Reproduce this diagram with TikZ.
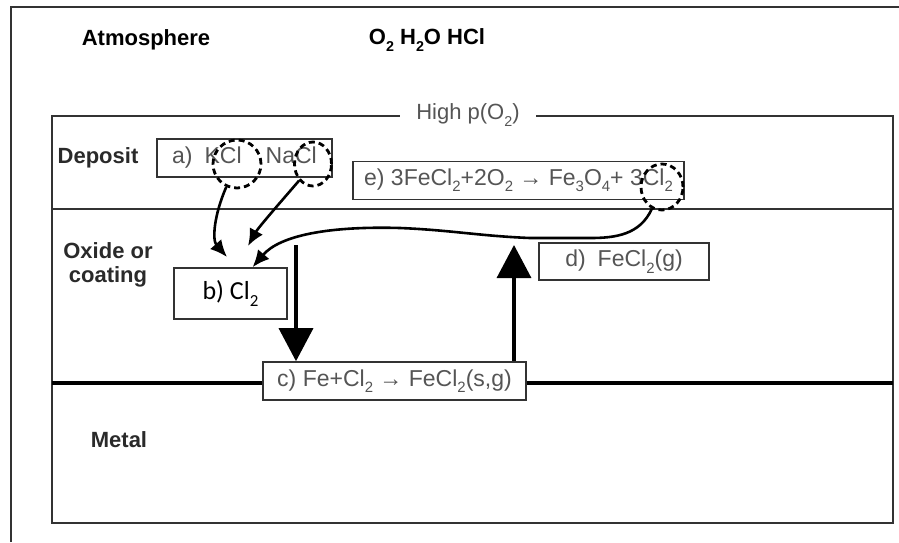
\documentclass[tikz,border=0pt]{standalone}
\usepackage{fontspec}
\setmainfont{Liberation Sans}
\newfontfamily\calib{Carlito}
\usetikzlibrary{arrows.meta,shapes.geometric,calc}
\definecolor{txtgray}{HTML}{555555}
\definecolor{linegray}{HTML}{333333}
\definecolor{lblgray}{HTML}{2a2a2a}
\newcommand\sbs[1]{\raisebox{-0.28em}{\scalebox{0.65}{#1}}}
\begin{document}
\begin{tikzpicture}[x=1pt,y=-1pt,
  box/.style={draw=linegray, line width=1.6pt, fill=white, text=txtgray,
    font=\fontsize{23}{26}\selectfont, inner sep=0pt, anchor=center},
  lbl/.style={font=\bfseries\fontsize{22}{25}\selectfont, text=lblgray, inner sep=0pt, anchor=center},
  dcirc/.style={ellipse, draw=black, dash pattern=on 6pt off 4pt, line width=2.8pt, inner sep=0pt},
  thinarr/.style={-{Latex[length=17pt,width=15pt]}, line width=2.6pt},
  bigarr/.style={-{Triangle[length=33pt,width=34pt]}, line width=3.4pt},
  frame/.style={draw=linegray, line width=1.8pt}]
\useasboundingbox (0,0) rectangle (899,542);
\fill[white] (0,0) rectangle (899,542);
% outer frame
\draw[frame, line width=2.2pt] (11,542) -- (11,7) -- (899,7);
% inner box
\draw[frame] (52,116) rectangle (893,523);
\draw[frame] (52,209) -- (893,209);
\draw[frame, draw=black, line width=3.2pt] (52,383) -- (893,383);
% labels
\node[lbl, text=black] (atm) at (146,40) {Atmosphere};
\node[lbl, text=black] (gas) at (427,40) {O\sbs{2} H\sbs{2}O HCl};
\node[fill=white, inner ysep=2pt, inner xsep=16pt, text=txtgray, font=\fontsize{22}{25}\selectfont] (hp) at (468,115) {High p(O\sbs{2})};
\node[lbl] (dep) at (98,158) {Deposit};
\node[lbl, align=center, font=\bfseries\fontsize{22}{24}\selectfont] (oxc) at (108,265) {Oxide or\\coating};
\node[lbl] (met) at (119,440) {Metal};
% boxes
\node[box, minimum width=175pt, minimum height=38pt] (a) at (244.5,158) {a)\hspace{12pt}KCl\hspace{24pt}NaCl};
\node[box, minimum width=331pt, minimum height=38pt] (e) at (518.5,180.5) {e) 3FeCl\sbs{2}+2O\sbs{2} → Fe\sbs{3}O\sbs{4}+ 3Cl\sbs{2}};
\node[box, minimum width=113pt, minimum height=51pt, text=black, font=\calib\fontsize{26}{28}\selectfont] (b) at (230.5,293.5) {b) Cl\sbs{2}};
\node[box, minimum width=263pt, minimum height=38pt] (c) at (394.5,381) {c) Fe+Cl\sbs{2} → FeCl\sbs{2}(s,g)};
\node[box, minimum width=170pt, minimum height=37pt] (d) at (624,261.5) {d)\hspace{12pt}FeCl\sbs{2}(g)};
% dashed circles
\node[dcirc, minimum width=48pt, minimum height=48pt] (kcl) at (237,164) {};
\node[dcirc, minimum width=37pt, minimum height=44pt] (nacl) at (313,164) {};
\node[dcirc, minimum width=42pt, minimum height=46pt] (cl2) at (662,187) {};
% arrow end points
\coordinate (t1) at (227,257);
\coordinate (t2) at (248,246);
\coordinate (ds) at (296,245);
\coordinate (ue) at (514,245);
% thin arrows
\draw[thinarr] (kcl.245) .. controls (214,215) and (212,240) .. (t1);
\draw[thinarr] (nacl.230) .. controls (278,205) and (258,228) .. (t2);
\draw[thinarr] (cl2.245) .. controls (640,235) and (615,238) .. (590,238)
  -- (530,238) .. controls (480,236) and (450,230) .. (400,228)
  .. controls (330,226) and (280,235) .. (b.50);
% thick arrows
\draw[bigarr] (ds) -- (ds |- c.north);
\draw[bigarr] (ue |- c.north) -- (ue);
\end{tikzpicture}
\end{document}
